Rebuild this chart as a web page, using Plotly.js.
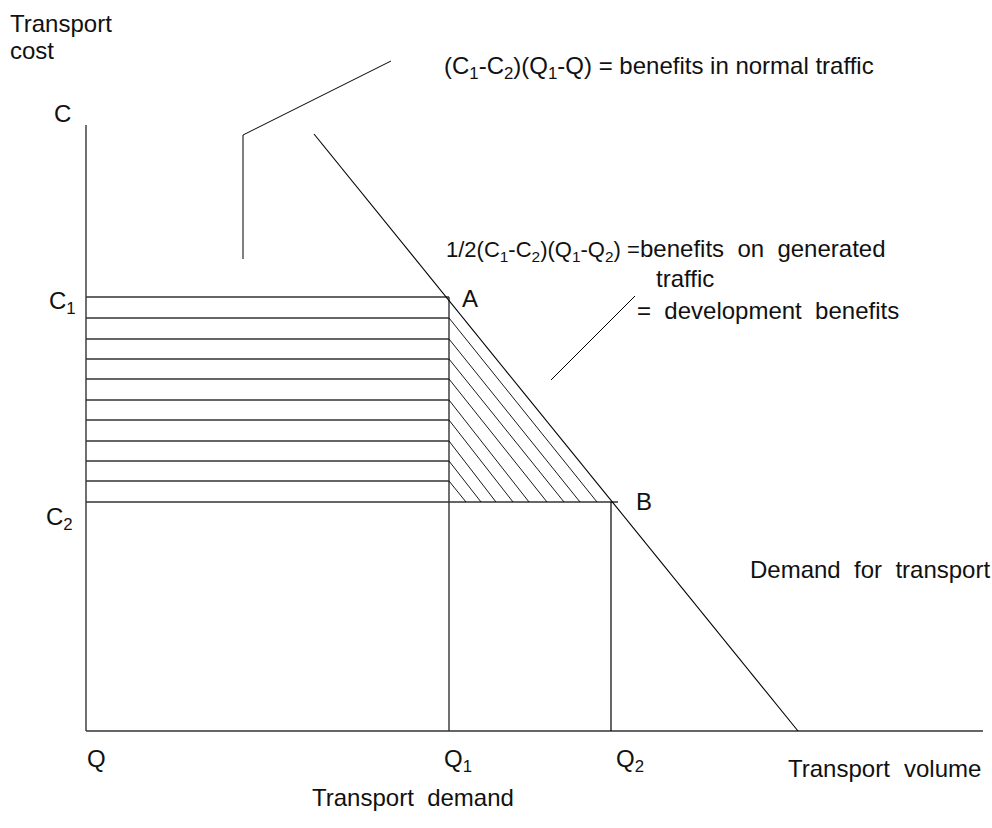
<!DOCTYPE html>
<html>
<head>
<meta charset="utf-8">
<script src="https://cdn.plot.ly/plotly-3.0.1.min.js"></script>
<style>html,body{margin:0;padding:0;background:#fff;}#chart{width:992px;height:828px;}</style>
</head>
<body>
<div id="chart"></div>
<script>
// Values (Q = transport volume, C = transport cost)
const C1 = 434;
const C2 = 229;
const Q1 = 363;
const Q2 = 525;
const axisTopC = 606;
const axisEndQ = 897;
const c2LineEndQ = 532;
const demandQ = [228, 712];
const demandC = [597, 0];
const hatchLevels = [434, 413, 392, 372, 352, 331, 311, 290, 270, 250, 229];
const diagStartC = [413, 392, 372, 352, 331, 311, 290, 270, 250];
const diagEndQ = [511, 494, 478, 461, 443, 427, 410, 395, 380];
const leader1Q = [157, 157, 305];
const leader1C = [472, 596, 670];
const leader2Q = [549, 465];
const leader2C = [435, 351];

const axisCol = '#333';
const lineCol = '#000';
const traces = [];
function seg(xs, ys, w, col) {
  traces.push({type: 'scatter', mode: 'lines', x: xs, y: ys,
    line: {color: col, width: w}, hoverinfo: 'skip', showlegend: false});
}
// axes
seg([0, 0], [0, axisTopC], 1.4, axisCol);
seg([0, axisEndQ], [0, 0], 1.4, axisCol);
// horizontal hatching (benefits in normal traffic)
hatchLevels.forEach((c, i) => {
  const end = (i === hatchLevels.length - 1) ? c2LineEndQ : Q1;
  seg([0, end], [c, c], 1.4, axisCol);
});
// verticals Q1, Q2
seg([Q1, Q1], [0, C1], 1.4, axisCol);
seg([Q2, Q2], [0, C2], 1.2, lineCol);
// demand line
seg(demandQ, demandC, 1.1, lineCol);
// diagonal hatching (generated traffic)
diagStartC.forEach((c, i) => seg([Q1, diagEndQ[i]], [c, C2], 0.9, lineCol));
// leader lines
seg(leader1Q, leader1C, 1, lineCol);
seg(leader2Q, leader2C, 1, lineCol);

function lab(x, y, text, size) {
  return {x: x, y: y, xref: 'x', yref: 'y', text: text, showarrow: false,
    xanchor: 'left', yanchor: 'middle', align: 'left',
    font: {family: 'Liberation Sans, Arial, sans-serif', size: size || 24, color: '#111'}};
}
const annotations = [
  lab(-78, 708, 'Transport'),
  lab(-78, 681, 'cost'),
  lab(-34, 618, 'C'),
  lab(-39, 429, 'C<sub>1</sub>'),
  lab(-42, 213, 'C<sub>2</sub>'),
  lab(374, 433, 'A'),
  lab(548, 230, 'B'),
  lab(356, 664, '(C<sub>1</sub>-C<sub>2</sub>)(Q<sub>1</sub>-Q) = benefits in normal traffic'),
  lab(358, 480, '1/2(C<sub>1</sub>-C<sub>2</sub>)(Q<sub>1</sub>-Q<sub>2</sub>) =', 22),
  lab(552, 483, 'benefits  on  generated'),
  lab(568, 453, 'traffic'),
  lab(549, 421, '=  development  benefits'),
  lab(662, 162, 'Demand  for  transport'),
  lab(-1, -27, 'Q'),
  lab(356, -29, 'Q<sub>1</sub>'),
  lab(528, -29, 'Q<sub>2</sub>'),
  lab(700, -37, 'Transport'),
  lab(816, -37, 'volume'),
  lab(224, -66, 'Transport  demand')
];

const layout = {
  width: 992, height: 828,
  margin: {l: 0, r: 0, t: 0, b: 0},
  paper_bgcolor: '#fff', plot_bgcolor: '#fff',
  showlegend: false,
  xaxis: {range: [-86, 906], visible: false, fixedrange: true},
  yaxis: {range: [-97, 731], visible: false, fixedrange: true},
  annotations: annotations
};
Plotly.newPlot('chart', traces, layout, {staticPlot: true});
</script>
</body>
</html>
